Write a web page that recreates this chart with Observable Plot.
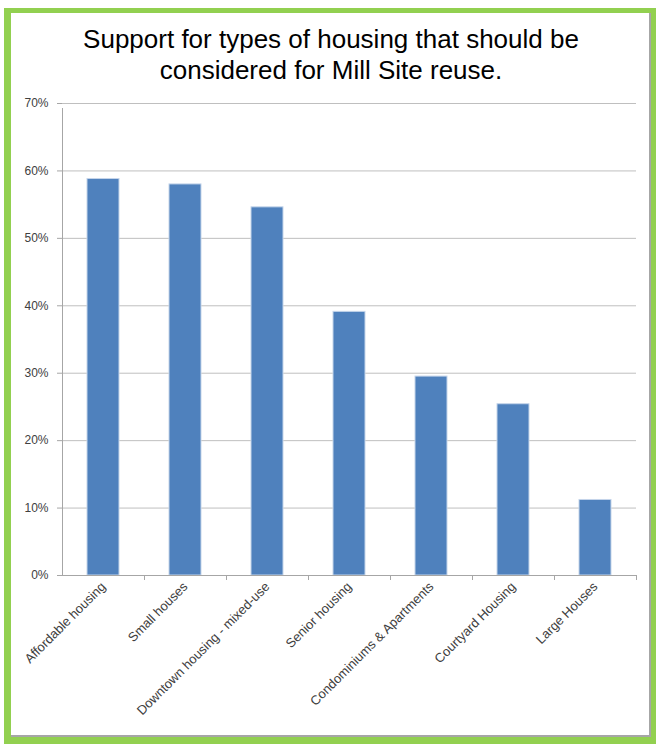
<!DOCTYPE html>
<html>
<head>
<meta charset="utf-8">
<script src="https://cdn.jsdelivr.net/npm/d3@7"></script>
<script src="https://cdn.jsdelivr.net/npm/@observablehq/plot@0.6"></script>
<style>
  html, body { margin: 0; padding: 0; background: #fff; }
  #frame { position: absolute; left: 4px; top: 8px; width: 652px; height: 736px; box-sizing: border-box;
           border-style: solid; border-color: #92D050; border-width: 5px 5px 7px 7px; }
  #inner { position: absolute; left: 0; top: 0; right: 0; bottom: 0; border-right: 2px solid #a6a6a6; border-bottom: 2px solid #a6a6a6; }
  #title { position: absolute; left: 6px; width: 650px; top: 24px; text-align: center;
           font-family: "Liberation Sans", Arial, sans-serif; font-size: 26px; line-height: 31px; color: #000; }
  #chart { position: absolute; left: 12px; top: 95px; }
</style>
</head>
<body>
<div id="frame"><div id="inner"></div></div>
<div id="title">Support for types of housing that should be<br>considered for Mill Site reuse.</div>
<div id="chart"></div>
<script>
const categories = [
  "Affordable housing",
  "Small houses",
  "Downtown housing - mixed-use",
  "Senior housing",
  "Condominiums & Apartments",
  "Courtyard Housing",
  "Large Houses"
];
const values = [0.588, 0.580, 0.546, 0.391, 0.295, 0.254, 0.112];
const yTicks = [0, 0.1, 0.2, 0.3, 0.4, 0.5, 0.6, 0.7];

const data = categories.map((c, i) => ({category: c, value: values[i]}));
const pct = d3.format(".0%");
const gridColor = "#bfbfbf";
const axisColor = "#a6a6a6";

const chart = Plot.plot({
  width: 628,
  height: 640,
  marginTop: 8,
  marginBottom: 160,
  marginLeft: 50,
  marginRight: 4,
  style: {background: "transparent", fontFamily: "'Liberation Sans', Arial, sans-serif", color: "#404040"},
  x: {domain: categories, paddingInner: 0.61, paddingOuter: 0.305, label: null},
  y: {domain: [0, 0.7], label: null},
  marks: [
    Plot.gridY(yTicks, {stroke: gridColor, strokeOpacity: 1, strokeWidth: 1}),
    Plot.ruleX([categories[0]], {x: d => d, dx: -41, y1: 0, y2: 0.7, insetBottom: -5, stroke: axisColor}),
    Plot.ruleX(categories, {x: d => d, dx: 41, y1: 0, y2: 0, insetBottom: -5, stroke: axisColor}),
    Plot.axisY(yTicks, {tickFormat: pct, tickSize: 5, tickPadding: 9, fontSize: 12, stroke: axisColor, fill: "#404040"}),
    Plot.barY(data, {x: "category", y: "value", fill: "#4F81BD", stroke: "#c5d5ea", strokeWidth: 1}),
    Plot.ruleY([0], {stroke: axisColor}),
    Plot.axisX({tickRotate: -45, tickSize: 0, tickPadding: 9, fontSize: 13, fill: "#404040"})
  ]
});
document.getElementById("chart").appendChild(chart);
</script>
</body>
</html>
